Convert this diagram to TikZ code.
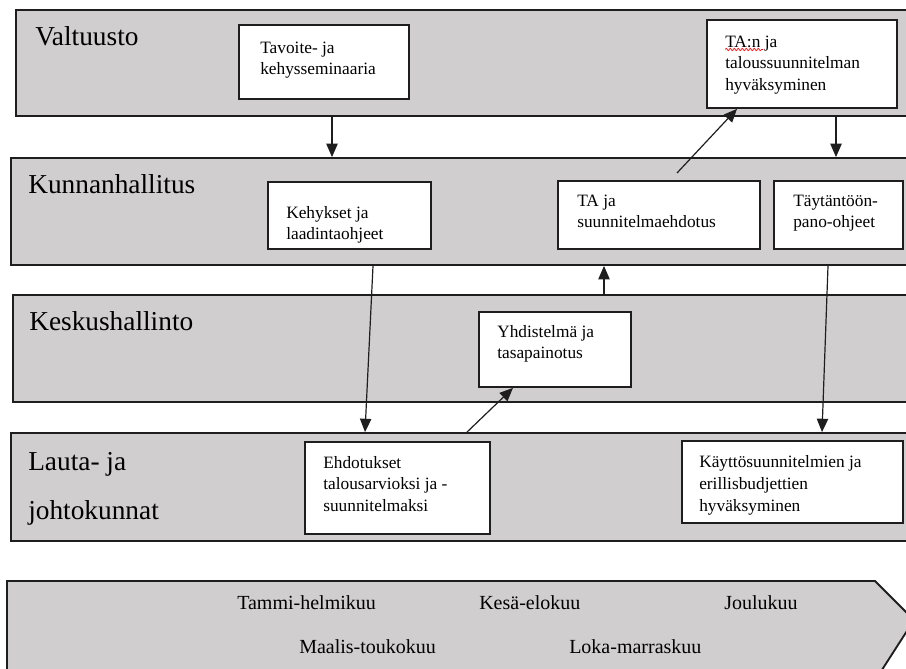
\documentclass[tikz,border=0pt]{standalone}
\usepackage{fontspec}
\setmainfont{Liberation Serif}
\usetikzlibrary{arrows.meta,fit,decorations.pathmorphing}
\definecolor{bandgray}{RGB}{208,206,207}
\definecolor{linec}{RGB}{30,30,30}
\begin{document}
\begin{tikzpicture}[x=0.75pt,y=-0.75pt,
  band/.style={draw=linec,fill=bandgray,line width=1.4pt,inner sep=0pt},
  box/.style={draw=linec,fill=white,line width=1.3pt,inner sep=0pt},
  lab/.style={anchor=base west,inner sep=0pt,font=\fontsize{20.5}{24}\selectfont},
  btxt/.style={anchor=base west,inner sep=0pt,font=\fontsize{13}{16}\selectfont},
  mtxt/.style={anchor=base west,inner sep=0pt,font=\fontsize{15}{18}\selectfont},
  arr/.style={draw=linec,line width=0.9pt,-{Triangle[length=10pt,width=8.5pt]}}
]
\useasboundingbox (0,0) rectangle (906,668);
\clip (0,0) rectangle (906,668);

% bands
\node[band,fit={(16,10) (915,116)}] (v) {};
\node[band,fit={(11,158) (915,265)}] (k) {};
\node[band,fit={(13,295) (915,402)}] (ks) {};
\node[band,fit={(11,433) (915,541)}] (l) {};
\path[band] (7,581) -- (875,581) -- (914,620) -- (878,676) -- (7,676) -- cycle;
\node[inner sep=0pt,fit={(7,581) (875,668)}] (tl) {};

% band labels
\node[lab] (lv) at (35,45) {Valtuusto};
\node[lab] (lk) at (28,193) {Kunnanhallitus};
\node[lab] (lks) at (29,330) {Keskushallinto};
\node[lab] (ll1) at (28,470) {Lauta- ja};
\node[lab] (ll2) at (28,519) {johtokunnat};

% boxes
\node[box,fit={(239,25) (409,99)}] (tav) {};
\node[box,fit={(707,20) (897,108)}] (tan) {};
\node[box,fit={(268,182) (431,249)}] (keh) {};
\node[box,fit={(558,181) (760,249)}] (taj) {};
\node[box,fit={(774,181) (903,249)}] (tay) {};
\node[box,fit={(479,312) (631,387)}] (yhd) {};
\node[box,fit={(305,442) (490,534)}] (ehd) {};
\node[box,fit={(682,441) (903,523)}] (kay) {};

% box texts
\node[btxt] (tav1) at (260,53) {Tavoite- ja};
\node[btxt] (tav2) at (260,74) {kehysseminaaria};
\node[btxt] (tan1) at (725,47) {TA:n ja};
\node[btxt] (tan2) at (725,68.5) {taloussuunnitelman};
\node[btxt] (tan3) at (725,90) {hyväksyminen};
\draw[red,line width=0.5pt,decorate,decoration={snake,amplitude=0.9pt,segment length=3pt}]
  (tan1.base west) ++(0,2.5) coordinate (sq1) -- ++(38,0) coordinate (sq2);
\node[btxt] (keh1) at (286,218) {Kehykset ja};
\node[btxt] (keh2) at (286,239) {laadintaohjeet};
\node[btxt] (taj1) at (577,206) {TA ja};
\node[btxt] (taj2) at (577,227) {suunnitelmaehdotus};
\node[btxt] (tay1) at (793,206) {Täytäntöön-};
\node[btxt] (tay2) at (793,227) {pano-ohjeet};
\node[btxt] (yhd1) at (497,337) {Yhdistelmä ja};
\node[btxt] (yhd2) at (497,358) {tasapainotus};
\node[btxt] (ehd1) at (323,468) {Ehdotukset};
\node[btxt] (ehd2) at (323,489.5) {talousarvioksi ja -};
\node[btxt] (ehd3) at (323,511) {suunnitelmaksi};
\node[btxt] (kay1) at (699,467) {Käyttösuunnitelmien ja};
\node[btxt] (kay2) at (699,489) {erillisbudjettien};
\node[btxt] (kay3) at (699,511) {hyväksyminen};

% timeline labels
\node[mtxt] (m1) at (237,609) {Tammi-helmikuu};
\node[mtxt] (m2) at (479,609) {Kesä-elokuu};
\node[mtxt] (m3) at (724,609) {Joulukuu};
\node[mtxt] (m4) at (299,653) {Maalis-toukokuu};
\node[mtxt] (m5) at (569,653) {Loka-marraskuu};

% connector helper coordinates
\coordinate (c1) at (332,0);
\coordinate (c2) at (836,0);
\coordinate (c3) at (604,0);
\coordinate (c4) at (373,0);
\coordinate (c5) at (365,0);
\coordinate (c6) at (467,0);
\coordinate (c7) at (513,0);
\coordinate (c8) at (828,0);
\coordinate (c9) at (822,0);
\coordinate (s1) at (677,173);
\coordinate (e1) at (737,0);

% connectors
\draw[arr] (v.south -| c1) -- (k.north -| c1);
\draw[arr] (v.south -| c2) -- (k.north -| c2);
\draw[arr] (s1) -- (tan.south -| e1);
\draw[arr] (ks.north -| c3) -- (k.south -| c3);
\draw[arr] (k.south -| c4) -- (l.north -| c5);
\draw[arr] (l.north -| c6) -- (yhd.south -| c7);
\draw[arr] (k.south -| c8) -- (l.north -| c9);
\end{tikzpicture}
\end{document}
